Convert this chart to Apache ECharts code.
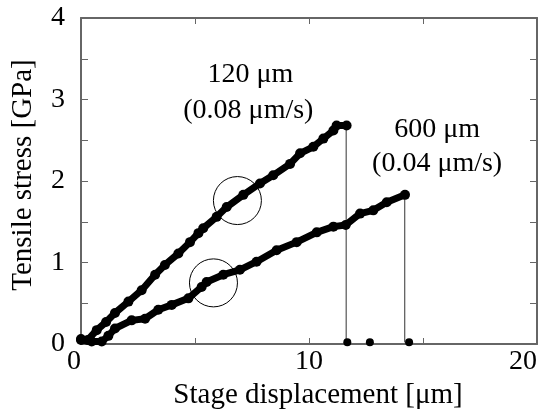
<!DOCTYPE html>
<html><head><meta charset="utf-8">
<script src="https://cdn.jsdelivr.net/npm/echarts@6/dist/echarts.min.js"></script>
<style>html,body{margin:0;padding:0;background:#fff}#c{width:544px;height:410px}</style>
</head><body><div id="c"></div>
<script>
const xTicks = [0, 10, 20];
const yTicks = [0, 1, 2, 3, 4];
const xTitle = 'Stage displacement [μm]';
const yTitle = 'Tensile stress [GPa]';
const curve120 = [[0,0.06],[0.3,0.05],[0.69,0.17],[1.1,0.27],[1.49,0.38],[2.08,0.52],[2.66,0.66],[3.25,0.85],[3.68,0.97],[4.27,1.11],[4.78,1.25],[5.15,1.36],[5.36,1.42],[5.95,1.56],[6.39,1.68],[7.12,1.83],[7.85,1.97],[8.43,2.07],[9.17,2.21],[9.61,2.34],[10.19,2.42],[10.63,2.52],[11.07,2.62],[11.21,2.68],[11.65,2.68]];
const curve600 = [[0,0.05],[0.47,0.03],[0.91,0.03],[1.2,0.1],[1.49,0.19],[2.22,0.29],[2.81,0.31],[3.39,0.42],[3.98,0.48],[4.71,0.56],[5.29,0.70],[5.51,0.76],[6.24,0.85],[6.97,0.91],[7.70,1.01],[8.58,1.15],[9.46,1.25],[10.34,1.37],[11.07,1.44],[11.61,1.46],[12.24,1.60],[12.82,1.64],[13.41,1.74],[14.21,1.83]];
const break120 = [[11.63,2.68],[11.63,0.02]];
const break600 = [[14.2,1.83],[14.2,0.02]];
const bottomDots = [[11.68,0.02],[12.67,0.02],[14.39,0.02]];
const circleMarks = [[6.86,1.76],[5.81,0.75]];
const labels = [[7.43,3.31,'120 μm'],[7.34,2.86,'(0.08 μm/s)'],[15.62,2.63,'600 μm'],[15.62,2.21,'(0.04 μm/s)']];

const font = 'Liberation Serif';
const axisCol = '#666';
const chart = echarts.init(document.getElementById('c'));
const xAx = (pos, show) => ({
  type:'value', position:pos, min:0, max:20, interval:5,
  axisLine:{show:true, onZero:false, lineStyle:{color:axisCol, width:2}},
  axisTick:{show:true, inside:true, length:6, lineStyle:{color:axisCol, width:1}},
  splitLine:{show:false},
  axisLabel: show ? {show:true, fontFamily:font, fontSize:28, color:'#000', margin:4,
    alignMinLabel:'right', alignMaxLabel:'right',
    formatter:v=>xTicks.includes(v)?String(v):''} : {show:false}
});
const yAx = (pos, show) => ({
  type:'value', position:pos, min:0, max:4, interval:0.5,
  axisLine:{show:true, onZero:false, lineStyle:{color:axisCol, width:2}},
  axisTick:{show:true, inside:true, length:7, lineStyle:{color:axisCol, width:1}},
  splitLine:{show:false},
  axisLabel: show ? {show:true, fontFamily:font, fontSize:28, color:'#000', margin:16,
    formatter:v=>yTicks.includes(v)?String(v):''} : {show:false}
});
const thin = d => ({type:'line', data:d, symbol:'none', lineStyle:{color:'#333', width:1}, z:1, silent:true});
const thick = d => ({type:'line', data:d, symbol:'circle', symbolSize:10, itemStyle:{color:'#000', opacity:1},
  lineStyle:{color:'#000', width:7}, z:3, silent:true});
chart.setOption({
  animation:false,
  grid:{left:81, right:7, top:18, bottom:66},
  xAxis:[xAx('bottom', true), xAx('top', false)],
  yAxis:[yAx('left', true), yAx('right', false)],
  graphic:[
    {type:'text', x:318, y:395, style:{text:xTitle, font:'29px "Liberation Serif"', fill:'#000', align:'center', verticalAlign:'middle'}},
    {type:'text', x:23, y:175, rotation:Math.PI/2, style:{text:yTitle, font:'29px "Liberation Serif"', fill:'#000', align:'center', verticalAlign:'middle'}}
  ],
  series:[
    thin(break120), thin(break600),
    thick(curve120), thick(curve600),
    {type:'scatter', data:bottomDots, symbol:'circle', symbolSize:8, itemStyle:{color:'#000', opacity:1}, z:3},
    {type:'scatter', data:circleMarks, symbol:'circle', symbolSize:48,
      itemStyle:{color:'rgba(0,0,0,0)', borderColor:'#000', borderWidth:1, opacity:1}, z:4},
    {type:'scatter', data:labels, symbolSize:0, z:5, itemStyle:{opacity:1},
      label:{show:true, position:'inside', formatter:p=>p.data[2], fontFamily:font, fontSize:28, color:'#000', opacity:1}}
  ]
});
</script></body></html>
